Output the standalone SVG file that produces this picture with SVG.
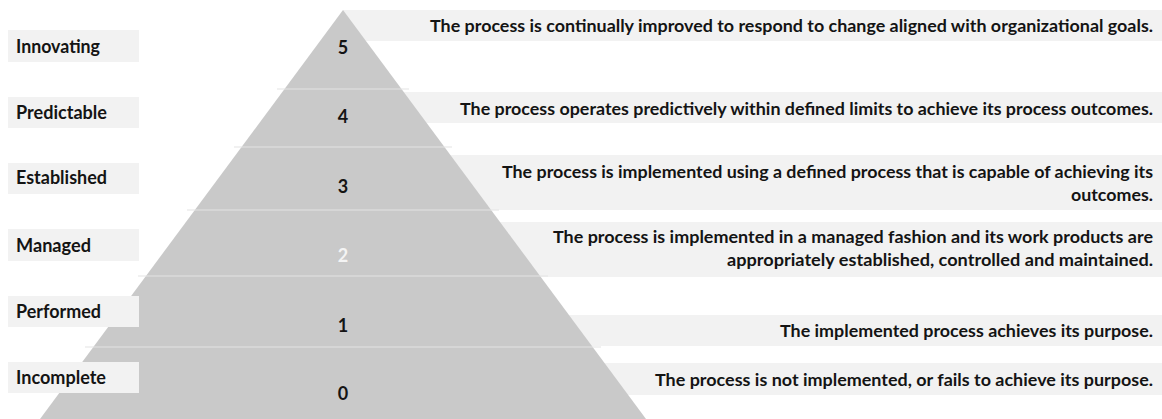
<svg xmlns="http://www.w3.org/2000/svg" width="1162" height="419" viewBox="0 0 1162 419">
<style>
  text { font-family: "Lato", "Carlito", "Liberation Sans", sans-serif; font-weight: bold; font-size: 17.5px; fill: #141414; }
  .lbl { font-size: 18px; }
  .box { fill: #f2f2f2; }
  .seg { fill: #c9c9c9; }
  .div { stroke: #e4e4e4; stroke-width: 1.2; }
  .num { text-anchor: middle; font-size: 18px; }
  .desc { text-anchor: end; }
  .white { fill: #f4f4f4; }
</style>
<rect width="1162" height="419" fill="#ffffff"/>
<g id="desc-boxes">
  <rect class="box" x="343" y="10" width="819" height="31"/>
  <rect class="box" x="343" y="92" width="819" height="31"/>
  <rect class="box" x="343" y="155" width="819" height="55"/>
  <rect class="box" x="343" y="222" width="819" height="55"/>
  <rect class="box" x="343" y="315" width="819" height="31"/>
  <rect class="box" x="343" y="363" width="819" height="32"/>
</g>
<g id="pyramid">
  <polygon class="seg" points="343,10 40,419 646,419"/>
  <line class="div" x1="277" y1="89" x2="409" y2="89"/>
  <line class="div" x1="234" y1="147" x2="452" y2="147"/>
  <line class="div" x1="187" y1="210" x2="499" y2="210"/>
  <line class="div" x1="138" y1="276" x2="548" y2="276"/>
  <line class="div" x1="85" y1="347" x2="601" y2="347"/>
</g>
<g id="level-5">
  <rect class="box" x="8" y="30" width="131" height="32"/>
  <text class="lbl" x="16" y="53" textLength="84" lengthAdjust="spacingAndGlyphs">Innovating</text>
  <text class="num" x="343" y="54">5</text>
  <text class="desc" x="1153" y="32" textLength="723" lengthAdjust="spacingAndGlyphs">The process is continually improved to respond to change aligned with organizational goals.</text>
</g>
<g id="level-4">
  <rect class="box" x="8" y="97" width="131" height="31"/>
  <text class="lbl" x="16" y="119" textLength="91" lengthAdjust="spacingAndGlyphs">Predictable</text>
  <text class="num" x="343" y="123">4</text>
  <text class="desc" x="1153" y="115" textLength="693" lengthAdjust="spacingAndGlyphs">The process operates predictively within defined limits to achieve its process outcomes.</text>
</g>
<g id="level-3">
  <rect class="box" x="8" y="163" width="131" height="31"/>
  <text class="lbl" x="16" y="184" textLength="91" lengthAdjust="spacingAndGlyphs">Established</text>
  <text class="num" x="343" y="193">3</text>
  <text class="desc" x="1153" y="178" textLength="651" lengthAdjust="spacingAndGlyphs">The process is implemented using a defined process that is capable of achieving its</text>
  <text class="desc" x="1153" y="201" textLength="82" lengthAdjust="spacingAndGlyphs">outcomes.</text>
</g>
<g id="level-2">
  <rect class="box" x="8" y="229" width="131" height="32"/>
  <text class="lbl" x="16" y="252" textLength="75" lengthAdjust="spacingAndGlyphs">Managed</text>
  <text class="num white" x="343" y="262">2</text>
  <text class="desc" x="1153" y="243" textLength="600" lengthAdjust="spacingAndGlyphs">The process is implemented in a managed fashion and its work products are</text>
  <text class="desc" x="1153" y="266" textLength="426" lengthAdjust="spacingAndGlyphs">appropriately established, controlled and maintained.</text>
</g>
<g id="level-1">
  <rect class="box" x="8" y="296" width="131" height="31"/>
  <text class="lbl" x="16" y="318" textLength="85" lengthAdjust="spacingAndGlyphs">Performed</text>
  <text class="num" x="343" y="332">1</text>
  <text class="desc" x="1153" y="337" textLength="373" lengthAdjust="spacingAndGlyphs">The implemented process achieves its purpose.</text>
</g>
<g id="level-0">
  <rect class="box" x="8" y="362" width="131" height="31"/>
  <text class="lbl" x="16" y="384" textLength="90" lengthAdjust="spacingAndGlyphs">Incomplete</text>
  <text class="num" x="343" y="400">0</text>
  <text class="desc" x="1153" y="386" textLength="498" lengthAdjust="spacingAndGlyphs">The process is not implemented, or fails to achieve its purpose.</text>
</g>
</svg>
